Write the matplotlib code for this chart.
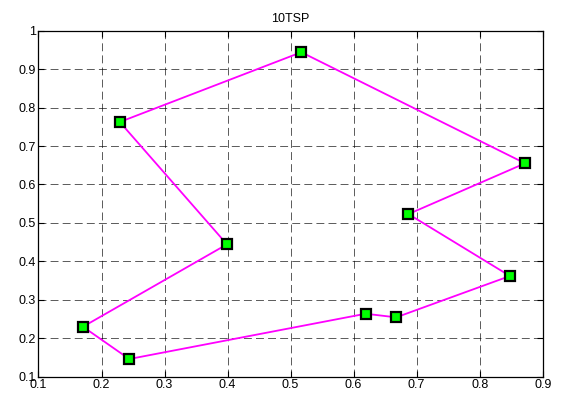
import matplotlib
matplotlib.use("Agg")
import matplotlib.pyplot as plt

x = [0.229, 0.517, 0.872, 0.687, 0.848, 0.6675, 0.619, 0.244, 0.1706, 0.399]
y = [0.7625, 0.944, 0.655, 0.523, 0.362, 0.2544, 0.2638, 0.146, 0.230, 0.4443]
title = "10TSP"
xticks = [0.1, 0.2, 0.3, 0.4, 0.5, 0.6, 0.7, 0.8, 0.9]
yticks = [0.1, 0.2, 0.3, 0.4, 0.5, 0.6, 0.7, 0.8, 0.9, 1.0]
xtick_labels = ["0.1", "0.2", "0.3", "0.4", "0.5", "0.6", "0.7", "0.8", "0.9"]
ytick_labels = ["0.1", "0.2", "0.3", "0.4", "0.5", "0.6", "0.7", "0.8", "0.9", "1"]

plt.rcParams['font.family'] = ['Liberation Sans', 'DejaVu Sans']

fig = plt.figure(figsize=(5.61, 3.96), dpi=100)
ax = fig.add_axes([0.0686, 0.0487, 0.9674 - 0.0686, 0.9225 - 0.0487])

xs = x + [x[0]]
ys = y + [y[0]]
ax.plot(xs, ys, color='#ff00ff', linewidth=1.3, zorder=3)
ax.plot(x, y, linestyle='none', marker='s', markersize=6.5,
        markerfacecolor='#00ff00', markeredgecolor='black', markeredgewidth=1.6, zorder=4)

ax.set_xlim(0.1, 0.9)
ax.set_ylim(0.1, 1.0)
ax.set_xticks(xticks)
ax.set_xticklabels(xtick_labels)
ax.set_yticks(yticks)
ax.set_yticklabels(ytick_labels)
ax.tick_params(direction='in', top=True, right=True, length=4, width=0.8,
               labelsize=9, pad=2, colors='black')
ax.grid(True, linestyle=(0, (9.5, 5)), color='black', linewidth=0.6, alpha=0.75)
for s in ax.spines.values():
    s.set_linewidth(0.9)
ax.set_title(title, fontsize=9, pad=6)

fig.savefig("out.png", dpi=100)
